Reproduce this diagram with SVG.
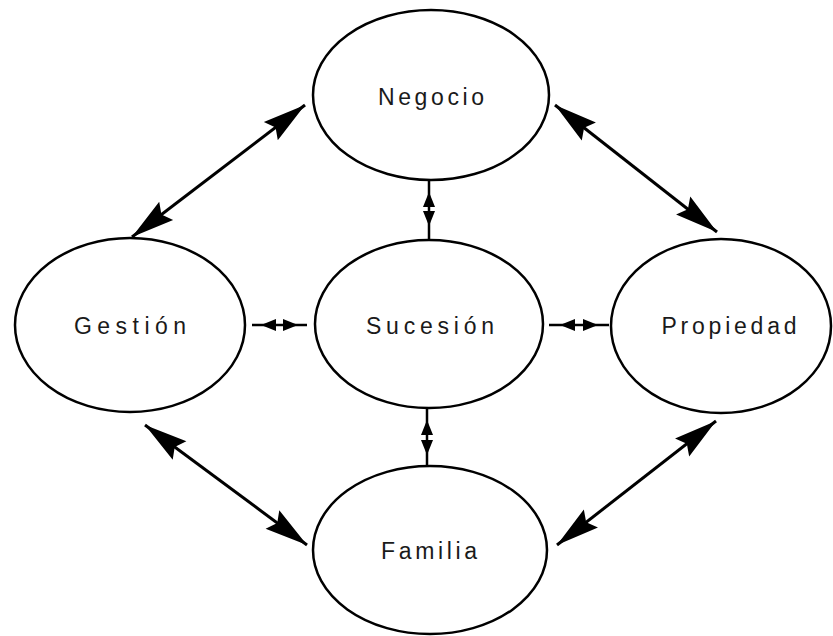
<svg xmlns="http://www.w3.org/2000/svg" width="833" height="636" viewBox="0 0 833 636">
<style>
.node ellipse{fill:#fff;stroke:#000;stroke-width:2.5}
.node text{font-family:"Liberation Sans",Arial,sans-serif;font-size:23px;fill:#1a1a1a;text-anchor:middle}
.conn line{stroke:#000;stroke-width:3}
.conn .thin{stroke-width:2.5}
.conn polygon{fill:#000}
</style>
<defs>
<marker id="big" viewBox="-44 -12 46 24" refX="0" refY="0" markerWidth="46" markerHeight="24" markerUnits="userSpaceOnUse" orient="auto-start-reverse">
<path d="M0,0 L-43,-11.5 L-37,0 L-43,11.5 Z" fill="#000"/>
</marker>
</defs>
<rect width="833" height="636" fill="#fff"/>
<g class="conn" id="connectors">
<line x1="305" y1="105" x2="132" y2="237" marker-start="url(#big)" marker-end="url(#big)"/>
<line x1="555" y1="105" x2="717" y2="232" marker-start="url(#big)" marker-end="url(#big)"/>
<line x1="145" y1="425" x2="307" y2="545" marker-start="url(#big)" marker-end="url(#big)"/>
<line x1="716" y1="421" x2="557" y2="545" marker-start="url(#big)" marker-end="url(#big)"/>
<line class="thin" x1="252" y1="325" x2="307" y2="325"/>
<polygon points="261,325 276,319 276,331"/>
<polygon points="298,325 283,319 283,331"/>
<line class="thin" x1="549" y1="325" x2="609" y2="325"/>
<polygon points="560,325 575,319 575,331"/>
<polygon points="598,325 583,319 583,331"/>
<line class="thin" x1="429" y1="180" x2="429" y2="240"/>
<polygon points="429,192 423,207 435,207"/>
<polygon points="429,226 423,211 435,211"/>
<line class="thin" x1="427" y1="407" x2="427" y2="467"/>
<polygon points="427,420 421,435 433,435"/>
<polygon points="427,455 421,440 433,440"/>
</g>
<g class="node" id="negocio"><ellipse cx="431" cy="95" rx="118" ry="85"/><text x="431" y="105" textLength="106" lengthAdjust="spacing">Negocio</text></g>
<g class="node" id="gestion"><ellipse cx="130" cy="325" rx="115" ry="87"/><text x="130" y="334" textLength="112" lengthAdjust="spacing">Gestión</text></g>
<g class="node" id="sucesion"><ellipse cx="429" cy="324" rx="114" ry="84"/><text x="430" y="334" textLength="128" lengthAdjust="spacing">Sucesión</text></g>
<g class="node" id="propiedad"><ellipse cx="721" cy="326" rx="110" ry="87"/><text x="729" y="334" textLength="135" lengthAdjust="spacing">Propiedad</text></g>
<g class="node" id="familia"><ellipse cx="430" cy="550" rx="117" ry="84"/><text x="429" y="559" textLength="96" lengthAdjust="spacing">Familia</text></g>
</svg>
